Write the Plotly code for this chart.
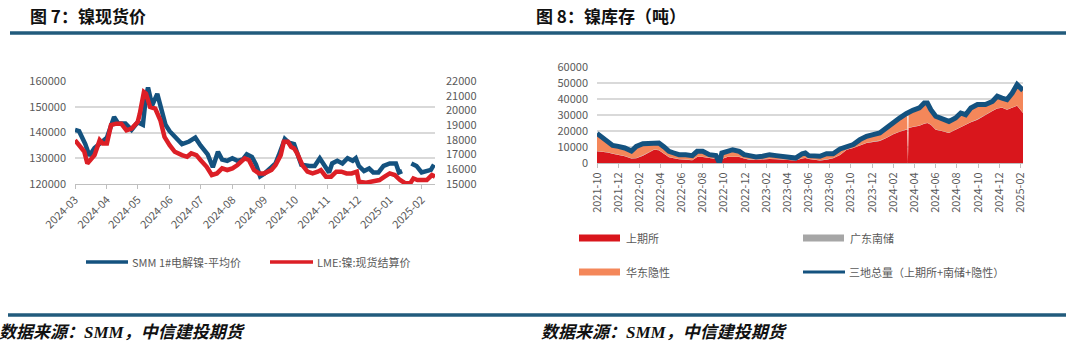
import plotly.graph_objects as go

W, H = 1080, 349

# ---------------- Chart 7 data: nickel spot price ----------------
smm_dates = ["2024-03-01", "2024-03-05", "2024-03-11", "2024-03-15", "2024-03-20", "2024-03-26",
             "2024-04-01", "2024-04-08", "2024-04-12", "2024-04-19", "2024-04-25",
             "2024-05-01", "2024-05-06", "2024-05-09", "2024-05-11", "2024-05-15", "2024-05-20",
             "2024-05-24", "2024-05-28",
             "2024-06-01", "2024-06-07", "2024-06-13", "2024-06-20", "2024-06-26",
             "2024-07-01", "2024-07-08", "2024-07-13", "2024-07-18", "2024-07-22", "2024-07-27",
             "2024-08-01", "2024-08-06", "2024-08-11", "2024-08-15", "2024-08-20", "2024-08-24", "2024-08-28",
             "2024-09-01", "2024-09-08", "2024-09-12", "2024-09-15", "2024-09-19", "2024-09-21",
             "2024-09-25", "2024-09-30",
             "2024-10-03", "2024-10-07", "2024-10-15", "2024-10-20", "2024-10-25", "2024-10-30",
             "2024-11-03", "2024-11-06", "2024-11-11", "2024-11-16", "2024-11-21", "2024-11-26", "2024-11-29",
             "2024-12-02", "2024-12-07", "2024-12-12", "2024-12-16", "2024-12-21", "2024-12-26",
             "2025-01-01", "2025-01-07", "2025-01-10", "2025-01-13", "2025-01-17",
             "2025-01-22", "2025-01-27", "2025-02-01", "2025-02-05", "2025-02-10", "2025-02-13"]
smm_price = [141000, 140500, 135500, 131000, 134000, 136000,
             138000, 146000, 143500, 143500, 141000,
             144000, 143000, 154000, 157500, 150500, 155000,
             149000, 143000,
             140500, 138000, 135500, 136500, 138000,
             135000, 131500, 126500, 132500, 129500, 129000,
             130000, 129000, 129500, 131500, 130500, 127500, 123000,
             124000, 126500, 128000, 131000, 135000, 137500,
             136000, 135500,
             132000, 127500, 127000, 127000, 130000, 127000,
             124500, 128000, 129000, 128000, 130000, 129000, 130000,
             127000, 125000, 126000, 124500, 124500, 127000,
             128000, 128000, 124500, 125000, None,
             128000, 127000, 124500, 125000, 125500, 127500]

lme_dates = ["2024-03-01", "2024-03-05", "2024-03-10", "2024-03-13", "2024-03-16", "2024-03-20",
             "2024-03-25", "2024-03-28",
             "2024-04-01", "2024-04-05", "2024-04-10", "2024-04-15", "2024-04-20", "2024-04-25",
             "2024-05-01", "2024-05-03", "2024-05-07", "2024-05-09", "2024-05-13", "2024-05-18",
             "2024-05-23", "2024-05-27",
             "2024-06-01", "2024-06-06", "2024-06-13", "2024-06-18", "2024-06-22", "2024-06-27",
             "2024-07-01", "2024-07-07", "2024-07-12", "2024-07-17", "2024-07-22", "2024-07-27",
             "2024-08-01", "2024-08-06", "2024-08-13", "2024-08-17", "2024-08-22", "2024-08-27",
             "2024-09-01", "2024-09-08", "2024-09-12", "2024-09-17", "2024-09-20", "2024-09-24",
             "2024-09-27", "2024-09-30",
             "2024-10-03", "2024-10-08", "2024-10-13", "2024-10-18", "2024-10-23", "2024-10-26", "2024-10-31",
             "2024-11-05", "2024-11-10", "2024-11-15", "2024-11-20", "2024-11-25", "2024-11-30",
             "2024-12-02", "2024-12-09", "2024-12-15", "2024-12-22", "2024-12-27",
             "2025-01-01", "2025-01-06", "2025-01-11", "2025-01-16", "2025-01-21", "2025-01-24", "2025-01-28",
             "2025-02-01", "2025-02-06", "2025-02-11", "2025-02-14"]
lme_price = [17980, 17640, 17200, 16400, 16600, 16960,
             17980, 17750,
             17750, 19000, 19100, 19100, 18650, 18770,
             19220, 19780, 21250, 21140, 20240, 20120,
             19330, 18200,
             17640, 17190, 16960, 16850, 17080, 16960,
             16630, 16170, 15610, 15720, 16060, 15950,
             16060, 16290, 16740, 16630, 15950, 15720,
             15720, 15950, 16290, 16960, 17870, 17870,
             17530, 17420,
             17080, 16290, 15840, 15720, 15840, 15950, 15500,
             15500, 15840, 15840, 15720, 15720, 15840,
             15160, 15090, 15160, 15270, 15500,
             15720, 15610, 15270, 15050, 15050, 15380, 15270,
             15270, 15270, 15610, 15500]

price_ticks_left = [120000, 130000, 140000, 150000, 160000]
price_ticks_right = [15000, 16000, 17000, 18000, 19000, 20000, 21000, 22000]

# ---------------- Chart 8 data: nickel inventory (tonnes) ----------------
inv_dates = ["2021-10-01", "2021-10-18", "2021-11-01", "2021-11-15", "2021-12-01", "2021-12-20",
             "2022-01-08", "2022-01-22", "2022-02-10", "2022-03-01", "2022-03-14", "2022-03-28",
             "2022-04-12", "2022-04-26", "2022-05-10", "2022-05-25", "2022-06-13", "2022-07-02",
             "2022-07-16", "2022-08-01", "2022-08-20", "2022-09-08", "2022-09-18", "2022-09-25",
             "2022-10-11", "2022-10-26", "2022-11-14", "2022-11-28", "2022-12-13", "2023-01-01",
             "2023-01-20", "2023-02-09", "2023-02-28", "2023-03-17", "2023-04-06", "2023-04-25",
             "2023-05-14", "2023-05-23", "2023-06-02", "2023-06-21", "2023-07-04", "2023-07-23",
             "2023-08-11", "2023-08-31", "2023-09-19", "2023-10-08", "2023-10-27", "2023-11-15",
             "2023-12-04", "2023-12-23", "2024-01-11", "2024-01-31", "2024-02-18", "2024-03-08",
             "2024-03-11", "2024-03-13", "2024-03-15", "2024-03-27", "2024-04-15", "2024-04-29",
             "2024-05-08", "2024-05-18", "2024-06-01", "2024-06-21", "2024-07-09", "2024-07-28",
             "2024-08-12", "2024-08-26", "2024-09-10", "2024-09-29", "2024-10-22", "2024-11-11",
             "2024-11-25", "2024-12-09", "2024-12-23", "2025-01-07", "2025-01-21", "2025-02-07"]
shfe_stock = [7300, 7000, 6500, 5800, 5200, 4200,
              2800, 3000, 4600, 6500, 8300, 7900,
              5500, 3600, 3000, 2300, 2000, 1700,
              3700, 3700, 3100, 2500, 0, 2500,
              3750, 3750, 3750, 2800, 2100, 2000,
              2300, 2500, 2300, 2100, 1900, 1500,
              2800, 3100, 2500, 1700, 1500, 2100,
              3000, 5000, 8300, 9400, 11000, 12500,
              13200, 13800, 15600, 18000, 19500, 20400,
              21000, 0, 21800, 22500, 23300, 24500,
              25000, 23900, 20800, 19800, 18750, 20800,
              22500, 23900, 25500, 27100, 30200, 32500,
              34000, 34500, 33300, 34400, 35800, 31250]
guangdong_stock = [200, 200, 200, 200, 200, 200,
                   200, 200, 200, 200, 200, 200,
                   200, 200, 200, 200, 200, 200,
                   200, 200, 200, 200, 0, 200,
                   200, 200, 200, 200, 200, 200,
                   200, 200, 200, 200, 200, 200,
                   200, 200, 200, 200, 200, 200,
                   200, 200, 200, 200, 200, 200,
                   200, 200, 200, 200, 200, 200,
                   200, 0, 200, 200, 200, 200,
                   200, 200, 200, 200, 200, 200,
                   200, 200, 200, 200, 200, 200,
                   200, 200, 200, 200, 200, 200]
huadong_stock = [11000, 8400, 6800, 5000, 5000, 5000,
                 4500, 7200, 7300, 5800, 4400, 4400,
                 4300, 3500, 3050, 2700, 3000, 2700,
                 3400, 3400, 1900, 1900, 0, 3550,
                 3350, 4350, 3350, 2200, 2300, 1550,
                 1700, 2500, 2100, 1900, 2100, 1400,
                 2800, 2950, 1900, 2100, 2500, 3500,
                 2600, 3550, 1900, 1900, 3400, 4000,
                 4300, 4750, 6100, 7200, 8400, 10200,
                 10000, 0, 9800, 10200, 10900, 12800,
                 12300, 9200, 8200, 7100, 7050, 7100,
                 8550, 6100, 8700, 9200, 6100, 5800,
                 7500, 5900, 6100, 9150, 13000, 13950]
total_stock = [18500, 15600, 13500, 11000, 10400, 9400,
               7500, 10400, 12100, 12500, 12900, 12500,
               10000, 7300, 6250, 5200, 5200, 4600,
               7300, 7300, 5200, 4600, 0, 6250,
               7300, 8300, 7300, 5200, 4600, 3750,
               4200, 5200, 4600, 4200, 4200, 3100,
               5800, 6250, 4600, 4000, 4200, 5800,
               5800, 8750, 10400, 11500, 14600, 16700,
               17700, 18750, 21900, 25400, 28100, 30800,
               31200, 31500, 31800, 32900, 34400, 37500,
               37500, 33300, 29200, 27100, 26000, 28100,
               31250, 30200, 34400, 36500, 36500, 38500,
               41700, 40600, 39600, 43750, 49000, 45400]
inv_ticks = [0, 10000, 20000, 30000, 40000, 50000, 60000]

# ---------------- styling ----------------
BLUE = "#14527f"
RED = "#dc1f26"
AREA_RED = "#d9161c"
AREA_ORANGE = "#f4875a"
AREA_GRAY = "#a6a6a6"
RULE = "#225b7c"
GRID = "#d9d9d9"
TXT = "#595959"
FONT = "Noto Sans CJK SC, Noto Sans, sans-serif"


def px(x):
    return x / W


def py(y):
    return 1 - y / H


fig = go.Figure()

# Chart 7 traces
fig.add_trace(go.Scatter(x=smm_dates, y=smm_price, mode="lines", name="SMM 1#电解镍-平均价",
                         line=dict(color=BLUE, width=4.5), connectgaps=False,
                         xaxis="x", yaxis="y"))
fig.add_trace(go.Scatter(x=lme_dates, y=lme_price, mode="lines", name="LME:镍:现货结算价",
                         line=dict(color=RED, width=4.5), xaxis="x", yaxis="y2"))

# Chart 8 traces
fig.add_trace(go.Scatter(x=inv_dates, y=shfe_stock, mode="lines", name="上期所", stackgroup="inv",
                         line=dict(width=0, color=AREA_RED), fillcolor=AREA_RED,
                         xaxis="x3", yaxis="y3"))
fig.add_trace(go.Scatter(x=inv_dates, y=guangdong_stock, mode="lines", name="广东南储", stackgroup="inv",
                         line=dict(width=0, color=AREA_GRAY), fillcolor=AREA_GRAY,
                         xaxis="x3", yaxis="y3"))
fig.add_trace(go.Scatter(x=inv_dates, y=huadong_stock, mode="lines", name="华东隐性", stackgroup="inv",
                         line=dict(width=0, color=AREA_ORANGE), fillcolor=AREA_ORANGE,
                         xaxis="x3", yaxis="y3"))
fig.add_trace(go.Scatter(x=inv_dates, y=total_stock, mode="lines", name="三地总量（上期所+南储+隐性）",
                         line=dict(color=BLUE, width=5), xaxis="x3", yaxis="y3"))

tickfont = dict(family=FONT, size=11, color=TXT)

fig.update_layout(
    template="none",
    width=W, height=H, autosize=False,
    margin=dict(l=0, r=0, t=0, b=0, pad=0),
    paper_bgcolor="white", plot_bgcolor="white",
    showlegend=False,
    font=dict(family=FONT, color=TXT),
    xaxis=dict(domain=[px(75), px(435)], type="date", automargin=False,
               range=["2024-03-01", "2025-02-14"],
               dtick="M1", tick0="2024-03-01", tickformat="%Y-%m", tickangle=-45,
               tickfont=tickfont, showgrid=False, showline=True, linecolor="#bfbfbf",
               ticks="outside", ticklen=4, tickcolor="#bfbfbf", anchor="y", zeroline=False),
    yaxis=dict(domain=[py(184), py(81)], range=[120000, 160000], tickvals=price_ticks_left,
               tickformat="d", automargin=False, ticks="",
               tickfont=tickfont, showgrid=True, gridcolor=GRID, gridwidth=1.5, zeroline=False,
               showline=False, ticklabelstandoff=8, anchor="x"),
    yaxis2=dict(domain=[py(184), py(81)], range=[15000, 22000], tickvals=price_ticks_right,
                tickformat="d", automargin=False, ticks="",
                tickfont=tickfont, showgrid=False, zeroline=False, overlaying="y", showline=False,
                side="right", anchor="x", ticklabelstandoff=10),
    xaxis3=dict(domain=[px(597), px(1023)], type="date", automargin=False,
                range=["2021-10-01", "2025-02-07"],
                dtick="M2", tick0="2021-10-01", tickformat="%Y-%m", tickangle=-90,
                tickfont=tickfont, showgrid=False, showline=True, linecolor="#bfbfbf",
                ticks="outside", ticklen=4, tickcolor="#bfbfbf", anchor="y3", zeroline=False),
    yaxis3=dict(domain=[py(163), py(67)], range=[0, 60000], tickvals=inv_ticks,
                tickformat="d", automargin=False, ticks="",
                tickfont=tickfont, showgrid=True, gridcolor=GRID, gridwidth=1.5, zeroline=False,
                showline=False, ticklabelstandoff=8, anchor="x3"),
)

shapes = []
annotations = []

# title rules and source rules
shapes.append(dict(type="line", xref="paper", yref="paper", x0=px(10), x1=px(1066),
                   y0=py(33), y1=py(33), line=dict(color=RULE, width=3.5)))
shapes.append(dict(type="line", xref="paper", yref="paper", x0=px(8), x1=px(1066),
                   y0=py(315), y1=py(315), line=dict(color=RULE, width=3.5)))

title_font = dict(family=FONT, size=17, color="#111111")
annotations.append(dict(text="<b>图 7：镍现货价</b>", x=px(88), y=py(15), xref="paper", yref="paper",
                        xanchor="center", yanchor="middle", showarrow=False, font=title_font))
annotations.append(dict(text="<b>图 8：镍库存（吨）</b>", x=px(611), y=py(15), xref="paper", yref="paper",
                        xanchor="center", yanchor="middle", showarrow=False, font=title_font))

src_font = dict(family="Liberation Serif, Noto Sans CJK SC, serif", size=17, color="#111111")
for sx in (122, 664):
    annotations.append(dict(text="<b><i>数据来源：SMM，中信建投期货</i></b>", x=px(sx), y=py(332),
                            xref="paper", yref="paper", xanchor="center", yanchor="middle",
                            showarrow=False, font=src_font))

leg_font = dict(family=FONT, size=11, color=TXT)


def legend_line(x0, x1, y, color, width, label):
    shapes.append(dict(type="line", xref="paper", yref="paper", x0=px(x0), x1=px(x1),
                       y0=py(y), y1=py(y), line=dict(color=color, width=width)))
    annotations.append(dict(text=label, x=px(x1 + 2), y=py(y), xref="paper", yref="paper",
                            xanchor="left", yanchor="middle", showarrow=False, font=leg_font))


def legend_box(x0, x1, y, color, label):
    shapes.append(dict(type="rect", xref="paper", yref="paper", x0=px(x0), x1=px(x1),
                       y0=py(y + 3.5), y1=py(y - 3.5), line=dict(width=0), fillcolor=color))
    annotations.append(dict(text=label, x=px(x1 + 4), y=py(y), xref="paper", yref="paper",
                            xanchor="left", yanchor="middle", showarrow=False, font=leg_font))


legend_line(86, 128, 262, BLUE, 3.5, "SMM 1#电解镍-平均价")
legend_line(270, 313, 262, RED, 3.5, "LME:镍:现货结算价")

legend_box(579, 620, 238, AREA_RED, "上期所")
legend_box(803, 844, 238, AREA_GRAY, "广东南储")
legend_box(579, 620, 272, AREA_ORANGE, "华东隐性")
legend_line(803, 845, 272, BLUE, 3, "三地总量（上期所+南储+隐性）")

fig.update_layout(shapes=shapes, annotations=annotations)

fig.write_html("out.html")
